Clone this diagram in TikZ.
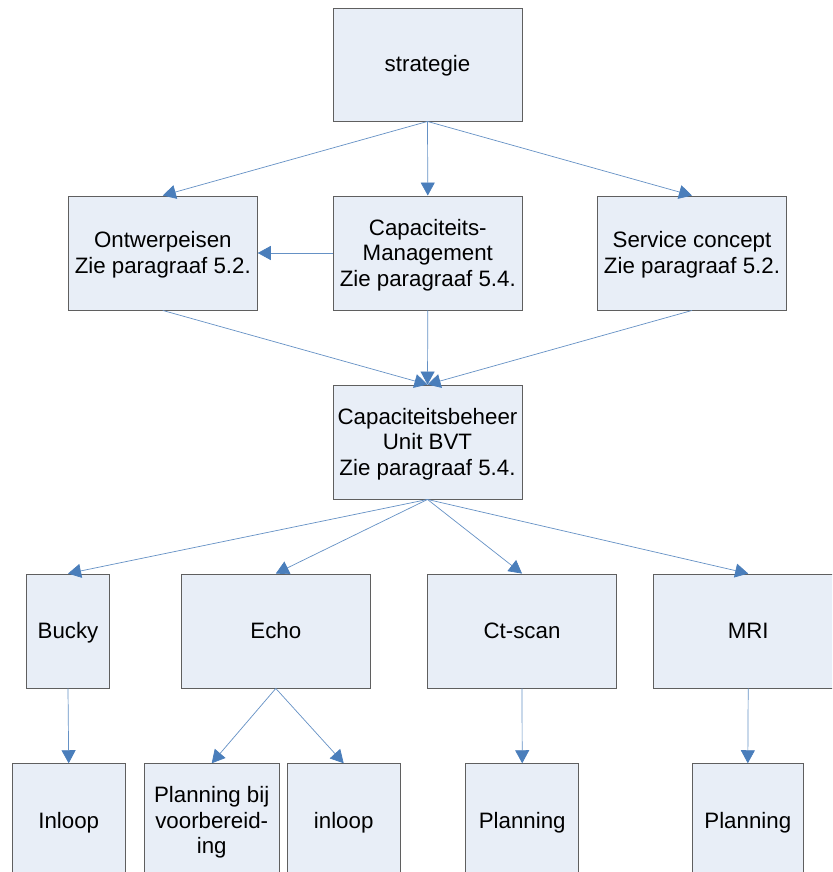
\documentclass[tikz,border=0pt]{standalone}
\usepackage{fontspec}
\setmainfont{Liberation Sans}
\usetikzlibrary{arrows.meta}
\definecolor{boxfill}{RGB}{232,238,247}
\definecolor{boxline}{RGB}{95,95,95}
\definecolor{linkblue}{RGB}{74,126,187}
% extra head room on the first text line, lowers the text block a little
\newcommand{\topgap}{\rule{0pt}{23pt}}
\tikzset{
  unitbox/.style={draw=boxline, line width=0.9pt, fill=boxfill, rectangle,
    inner sep=0pt, align=center, minimum height=114pt,
    font=\fontsize{22.3}{25.5}\selectfont,
    execute at begin node=\rule{0pt}{22.5pt}, execute at end node=\strut},
  conn/.style={draw=linkblue!85, line width=0.7pt,
    -{Triangle[length=13pt,width=14pt,color=linkblue,fill=linkblue]}}
}
\begin{document}
\begin{tikzpicture}[x=1pt,y=-1pt]
\path[use as bounding box, clip] (0,0) rectangle (832,872);
\fill[white] (0,0) rectangle (832,872);

% top levels
\node[unitbox, minimum width=189pt, minimum height=113pt] (strat) at (427.5,64.5) {strategie};
\node[unitbox, minimum width=189pt] (ontw) at (162.8,253) {\topgap Ontwerpeisen\\Zie paragraaf 5.2.};
\node[unitbox, minimum width=189pt] (capm) at (427.8,253) {\topgap Capaciteits-\\Management\\Zie paragraaf 5.4.};
\node[unitbox, minimum width=189pt] (serv) at (692,253) {\topgap Service concept\\Zie paragraaf 5.2.};
\node[unitbox, minimum width=189pt] (capb) at (427.5,442) {\topgap Capaciteitsbeheer\\Unit BVT\\Zie paragraaf 5.4.};

% modalities
\node[unitbox, minimum width=83pt] (bucky) at (68,631) {Bucky};
\node[unitbox, minimum width=189pt] (echo) at (275.8,631) {Echo};
\node[unitbox, minimum width=189pt] (ct) at (522,631) {Ct-scan};
\node[unitbox, minimum width=189pt] (mri) at (748.2,631) {MRI};

% working methods
\node[unitbox, minimum width=113pt] (inl) at (68.7,820.7) {Inloop};
\node[unitbox, minimum width=135pt] (pbv) at (211.7,820.7) {\topgap Planning bij\\voorbereid-\\ing};
\node[unitbox, minimum width=113pt] (inl2) at (343.7,820.7) {inloop};
\node[unitbox, minimum width=113pt] (pl1) at (522.2,820.7) {Planning};
\node[unitbox, minimum width=111pt] (pl2) at (747.8,820.7) {Planning};

% connectors
\draw[conn] (strat.south) -- (ontw.north);
\draw[conn] (strat.south) -- (capm.north);
\draw[conn] (strat.south) -- (serv.north);
\draw[conn] (capm.west) -- (ontw.east);
\draw[conn] (ontw.south) -- (capb.north);
\draw[conn] (capm.south) -- (capb.north);
\draw[conn] (serv.south) -- (capb.north);
\draw[conn] (capb.south) -- (bucky.north);
\draw[conn] (capb.south) -- (echo.north);
\draw[conn] (capb.south) -- (ct.north);
\draw[conn] (capb.south) -- (mri.north);
\draw[conn] (bucky.south) -- (inl.north);
\draw[conn] (echo.south) -- (pbv.north);
\draw[conn] (echo.south) -- (inl2.north);
\draw[conn] (ct.south) -- (pl1.north);
\draw[conn] (mri.south) -- (pl2.north);
\end{tikzpicture}
\end{document}
